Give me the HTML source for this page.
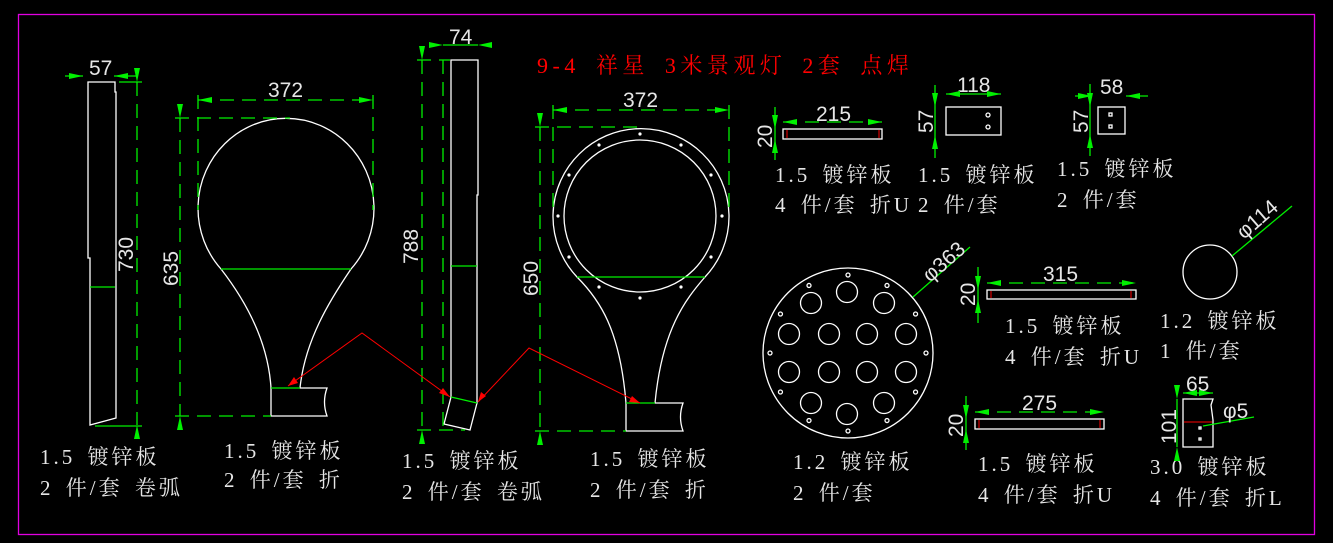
<!DOCTYPE html>
<html><head><meta charset="utf-8"><style>
html,body{margin:0;padding:0;background:#000;}
svg{display:block}
.t{font-family:"Liberation Serif","Noto Serif CJK SC",serif;fill:#e6e6e6;font-size:21px;letter-spacing:3px;word-spacing:4px}
.d{font-family:"Liberation Sans","Noto Sans CJK SC",sans-serif;fill:#e6e6e6;font-size:21px}
.w{stroke:#fff;stroke-width:1.3;fill:none}
.g{stroke:#00f000;stroke-width:1.3;fill:none;stroke-dasharray:14 8}
.gs{stroke:#00f000;stroke-width:1.3;fill:none}
.r{stroke:#f00;stroke-width:1;fill:none}
</style></head><body>
<svg id="s" width="1333" height="543" xmlns="http://www.w3.org/2000/svg">
<rect x="18.5" y="14.5" width="1296" height="520" fill="none" stroke="#e000e0" stroke-width="1.3"/>
<text x="537" y="73" font-family="Liberation Serif,'Noto Serif CJK SC',serif" font-size="22" fill="#f00" letter-spacing="4.5" word-spacing="6">9-4 祥星 3米景观灯 2套 点焊</text>

<!-- part 1 strip -->
<path class="w" d="M88,82 H115 V92 L116,92 V418 L90,425 V258 H88 Z"/>
<line class="gs" x1="90" y1="287" x2="115" y2="287"/>
<line class="gs" x1="65" y1="76" x2="83" y2="76"/><line class="gs" x1="114" y1="76" x2="138" y2="76"/>
<text class="d" x="89" y="75">57</text>
<line class="g" x1="137" y1="82" x2="137" y2="425"/>
<line class="gs" x1="119" y1="82" x2="142" y2="82"/><line class="gs" x1="95" y1="426" x2="142" y2="426"/>
<text class="d" transform="translate(133,272) rotate(-90)">730</text>

<!-- part 2 bulb -->
<path class="w" d="M221,269 A88,90 0 1 1 351,269 C330,300 305,340 300,388 H327 Q322,402 327,416 H271 V388 C268,340 245,300 221,269 Z"/>
<line class="gs" x1="221" y1="269" x2="351" y2="269"/>
<line class="gs" x1="271" y1="388" x2="300" y2="388"/>
<line class="g" x1="198" y1="95" x2="198" y2="210"/><line class="g" x1="373" y1="95" x2="373" y2="210"/>
<line class="g" x1="198" y1="100" x2="373" y2="100"/>
<text class="d" x="268" y="97">372</text>
<line class="g" x1="175" y1="118" x2="290" y2="118"/><line class="g" x1="175" y1="416" x2="271" y2="416"/>
<line class="g" x1="180" y1="118" x2="180" y2="416"/>
<text class="d" transform="translate(178,286) rotate(-90)">635</text>

<!-- part 3 strip -->
<path class="w" d="M451,60 H478 V195 H477 V403 L470,430 L444,424 L451,397 Z"/>
<line class="gs" x1="451" y1="266" x2="477" y2="266"/>
<line class="gs" x1="451" y1="397" x2="477" y2="403"/>
<line class="gs" x1="443" y1="45" x2="478" y2="45"/>
<text class="d" x="449" y="44">74</text>
<line class="g" x1="443" y1="60" x2="443" y2="430"/>
<line class="g" x1="417" y1="60" x2="450" y2="60"/><line class="g" x1="417" y1="430" x2="465" y2="430"/>
<line class="g" x1="422" y1="60" x2="422" y2="430"/>
<text class="d" transform="translate(418,264) rotate(-90)">788</text>

<!-- part 4 ring -->
<path class="w" d="M577,277 A88,88 0 1 1 705,277 C685,300 662,330 655,403 H683 Q678,417 683,431 H626 V403 C620,330 600,300 577,277 Z"/>
<circle class="w" cx="640" cy="216" r="76"/>
<line class="gs" x1="577" y1="277" x2="705" y2="277"/>
<line class="gs" x1="626" y1="403" x2="655" y2="403"/>
<g id="ringholes" fill="#fff"></g>
<line class="g" x1="553" y1="105" x2="553" y2="215"/><line class="g" x1="729" y1="105" x2="729" y2="215"/>
<line class="g" x1="553" y1="110" x2="729" y2="110"/>
<text class="d" x="623" y="107">372</text>
<line class="g" x1="535" y1="127" x2="640" y2="127"/><line class="g" x1="535" y1="431" x2="626" y2="431"/>
<line class="g" x1="540" y1="127" x2="540" y2="431"/>
<text class="d" transform="translate(538,296) rotate(-90)">650</text>

<!-- red leaders -->
<polyline class="r" points="288,386 362,333 450,397"/>
<polyline class="r" points="478,402 529,348 640,403"/>
<polygon fill="#f00" points="288,386 294,377 298,383"/>
<polygon fill="#f00" points="450,397 439,393 443,388"/>
<polygon fill="#f00" points="478,402 481,392 486,396"/>
<polygon fill="#f00" points="640,403 629,402 632,396"/>

<!-- 215 -->
<rect class="w" x="783" y="129" width="99" height="10"/>
<line class="r" x1="787" y1="130" x2="787" y2="138"/><line class="r" x1="879" y1="130" x2="879" y2="138"/>
<line class="g" x1="783" y1="122" x2="882" y2="122"/>
<text class="d" x="816" y="121">215</text>
<line class="gs" x1="775" y1="107" x2="775" y2="160"/>
<text class="d" transform="translate(772,148) rotate(-90)">20</text>
<text class="t" x="775" y="182">1.5 镀锌板</text><text class="t" x="775" y="212">4 件/套 折U</text>

<!-- 118 -->
<rect class="w" x="946" y="107" width="55" height="28"/>
<circle class="w" cx="988" cy="115" r="2"/><circle class="w" cx="988" cy="127" r="2"/>
<line class="gs" x1="946" y1="94" x2="1001" y2="94"/>
<text class="d" x="957" y="92">118</text>
<line class="gs" x1="935" y1="85" x2="935" y2="158"/>
<text class="d" transform="translate(933,133) rotate(-90)">57</text>
<text class="t" x="918" y="182">1.5 镀锌板</text><text class="t" x="918" y="212">2 件/套</text>

<!-- 58 -->
<rect class="w" x="1098" y="107" width="27" height="27"/>
<rect class="w" x="1109" y="113" width="3" height="3"/><rect class="w" x="1109" y="125" width="3" height="3"/>
<line class="gs" x1="1075" y1="96" x2="1092" y2="96"/><line class="gs" x1="1126" y1="96" x2="1148" y2="96"/>
<text class="d" x="1100" y="94">58</text>
<line class="gs" x1="1090" y1="84" x2="1090" y2="156"/>
<text class="d" transform="translate(1088,133) rotate(-90)">57</text>
<text class="t" x="1057" y="176">1.5 镀锌板</text><text class="t" x="1057" y="207">2 件/套</text>

<!-- 363 plate -->
<circle class="w" cx="848" cy="353" r="85"/>
<g id="plateholes"></g>
<line class="gs" x1="913" y1="297" x2="970" y2="247"/>
<text class="d" transform="translate(930,283) rotate(-41)">φ363</text>
<text class="t" x="793" y="469">1.2 镀锌板</text><text class="t" x="793" y="500">2 件/套</text>

<!-- 315 -->
<rect class="w" x="987" y="290" width="149" height="9"/>
<line class="r" x1="991" y1="291" x2="991" y2="298"/><line class="r" x1="1131" y1="291" x2="1131" y2="298"/>
<line class="g" x1="987" y1="283" x2="1136" y2="283"/>
<text class="d" x="1043" y="281">315</text>
<line class="gs" x1="978" y1="267" x2="978" y2="323"/>
<text class="d" transform="translate(975,306) rotate(-90)">20</text>
<text class="t" x="1005" y="333">1.5 镀锌板</text><text class="t" x="1005" y="364">4 件/套 折U</text>

<!-- 114 -->
<circle class="w" cx="1210" cy="272" r="27"/>
<line class="gs" x1="1232" y1="256" x2="1292" y2="206"/>
<text class="d" transform="translate(1244,240) rotate(-41)">φ114</text>
<text class="t" x="1160" y="328">1.2 镀锌板</text><text class="t" x="1160" y="358">1 件/套</text>

<!-- 275 -->
<rect class="w" x="975" y="419" width="129" height="10"/>
<line class="r" x1="979" y1="420" x2="979" y2="428"/><line class="r" x1="1100" y1="420" x2="1100" y2="428"/>
<line class="g" x1="975" y1="412" x2="1104" y2="412"/>
<text class="d" x="1022" y="410">275</text>
<line class="gs" x1="966" y1="396" x2="966" y2="450"/>
<text class="d" transform="translate(963,437) rotate(-90)">20</text>
<text class="t" x="978" y="471">1.5 镀锌板</text><text class="t" x="978" y="502">4 件/套 折U</text>

<!-- 65/101 -->
<path class="w" d="M1183,399 H1213 L1211,405 L1213,420 V447 H1183 Z"/>
<line class="r" x1="1184" y1="422" x2="1212" y2="422"/>
<rect class="w" x="1199" y="427" width="2" height="2"/><rect class="w" x="1199" y="438" width="2" height="2"/>
<line class="gs" x1="1183" y1="393" x2="1213" y2="393"/>
<text class="d" x="1186" y="391">65</text>
<line class="gs" x1="1177" y1="399" x2="1177" y2="447"/>
<text class="d" transform="translate(1176,444) rotate(-90)">101</text>
<line class="gs" x1="1203" y1="426" x2="1254" y2="417"/>
<text class="d" x="1223" y="418">φ5</text>
<text class="t" x="1150" y="474">3.0 镀锌板</text><text class="t" x="1150" y="505">4 件/套 折L</text>

<!-- bottom labels -->
<text class="t" x="40" y="464">1.5 镀锌板</text><text class="t" x="40" y="495">2 件/套 卷弧</text>
<text class="t" x="224" y="458">1.5 镀锌板</text><text class="t" x="224" y="487">2 件/套 折</text>
<text class="t" x="402" y="468">1.5 镀锌板</text><text class="t" x="402" y="499">2 件/套 卷弧</text>
<text class="t" x="590" y="466">1.5 镀锌板</text><text class="t" x="590" y="497">2 件/套 折</text>
</svg>
<script>
var NS="http://www.w3.org/2000/svg";
function el(p,t,a){var e=document.createElementNS(NS,t);for(var k in a)e.setAttribute(k,a[k]);p.appendChild(e);return e;}
var rh=document.getElementById("ringholes");
for(var i=0;i<12;i++){var a=i*Math.PI/6;el(rh,"circle",{cx:640+82*Math.sin(a),cy:216-82*Math.cos(a),r:1.6});}
var ph=document.getElementById("plateholes");
var big=[[847,292],[811,303],[884,303],[789,334],[829,334],[867,334],[906,334],[789,372],[829,372],[867,372],[906,372],[811,403],[884,403],[847,414]];
big.forEach(function(p){el(ph,"circle",{cx:p[0],cy:p[1],r:10.5,"class":"w"});});
for(var i=0;i<12;i++){var a=i*Math.PI/6;el(ph,"circle",{cx:848+78*Math.sin(a),cy:353-78*Math.cos(a),r:2,"class":"w"});}
// dimension arrowheads
var s=document.getElementById("s");
var arr=[[83,76,0],[114,76,180],[137,82,90],[137,425,-90],[198,100,180],[373,100,0],[180,118,90],[180,416,-90],
[443,45,0],[478,45,180],[422,60,90],[422,430,-90],[553,110,180],[729,110,0],[540,127,90],[540,431,-90],
[783,122,180],[882,122,0],[775,129,90],[775,139,-90],[946,94,180],[1001,94,0],[935,107,90],[935,135,-90],
[1092,96,0],[1126,96,180],[1090,107,90],[1090,134,-90],[987,283,180],[1136,283,0],[978,290,90],[978,299,-90],
[975,412,180],[1104,412,0],[966,419,90],[966,429,-90],[1183,393,180],[1213,393,0],[1177,399,90],[1177,447,-90]];
arr.forEach(function(a){el(s,"polygon",{points:"0,0 -14,-3 -14,3",fill:"#00f000",transform:"translate("+a[0]+","+a[1]+") rotate("+a[2]+")"});});
</script>
</body></html>
